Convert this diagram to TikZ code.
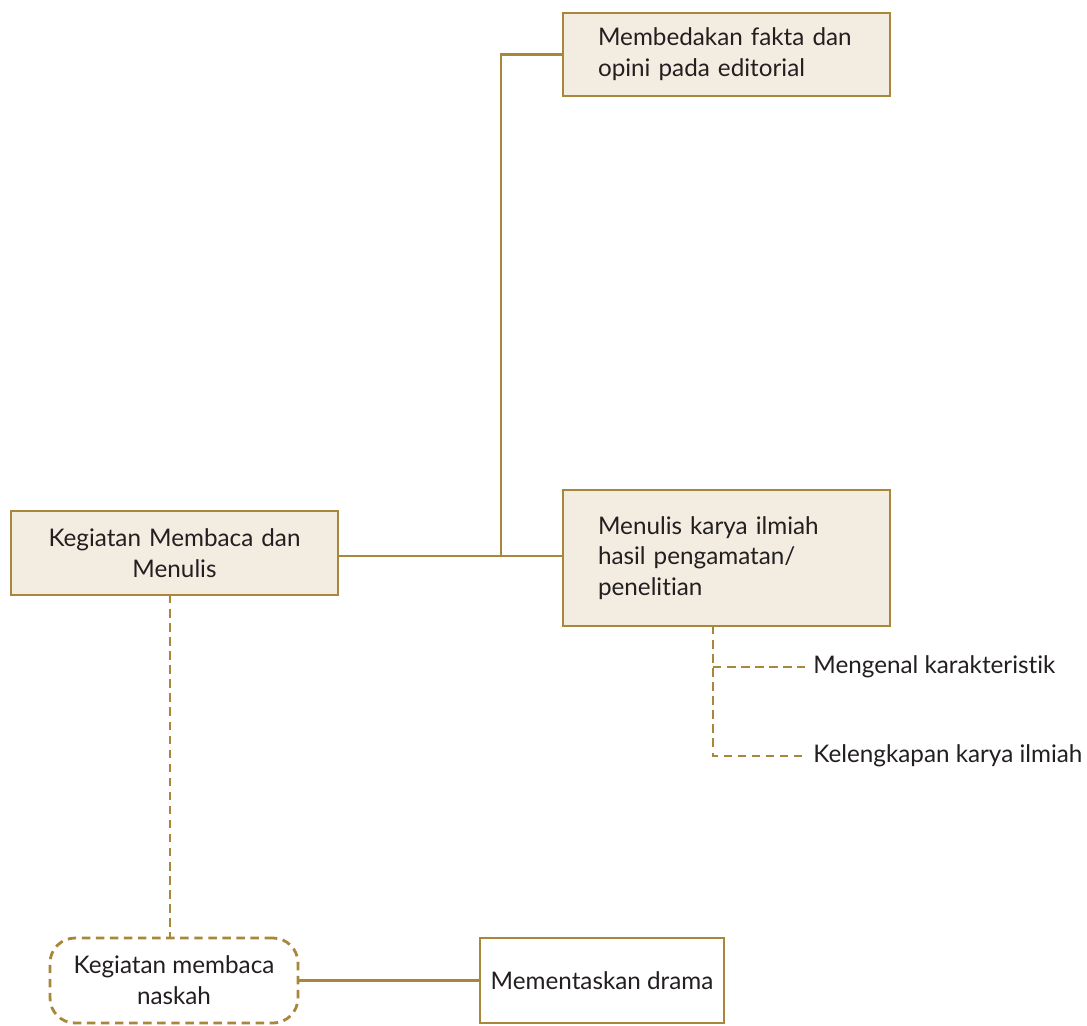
\documentclass[tikz,border=0pt]{standalone}
\usepackage{fontspec}
\setmainfont{Lato}[Ligatures={NoCommon,NoRare}]
\usepackage{tikz}

\definecolor{gold}{HTML}{A8873A}
\definecolor{paper}{HTML}{F2ECE1}
\definecolor{ink}{HTML}{231F20}

\begin{document}
\begin{tikzpicture}[x=0.02cm, y=-0.02cm, line width=1.6pt, font=\fontsize{13.8}{17.5}\selectfont, text=ink,
  topic/.style={draw=gold, fill=paper, minimum width=6.54cm, inner xsep=0.7cm, inner ysep=0pt},
  plain/.style={draw=gold, fill=white, minimum height=1.7cm},
  sub/.style={anchor=west, inner sep=0pt},
  dashline/.style={draw=gold, dash pattern=on 4.8pt off 3.2pt}]
  \useasboundingbox (0,0) rectangle (1087,1025);

  \node[topic, minimum height=1.68cm, align=center, text width=5.14cm] (main) at (174.5,553) {Kegiatan Membaca dan\\Menulis};
  \node[topic, minimum height=1.66cm, align=left, text width=5.14cm] (fakta) at (726.5,54.5) {\mbox{Membedakan fakta dan}\\opini pada editorial};
  \node[topic, minimum height=2.72cm, align=left, text width=5.14cm] (ilmiah) at (726.5,558) {Menulis karya ilmiah\\hasil pengamatan/\\penelitian\\[4pt]};
  \node[plain, dashline, rounded corners=0.5cm, minimum width=4.96cm, align=center] (naskah) at (174,980.5) {Kegiatan membaca\\naskah};
  \node[plain, minimum width=4.88cm] (drama) at (602,980.5) {Mementaskan drama};

  \node[sub] (ciri) at (812,667) {Mengenal karakteristik};
  \node[sub] (lengkap) at (812,756) {Kelengkapan karya ilmiah};

  \coordinate (j) at (501,556);
  \coordinate (s) at (713,626);
  \coordinate (t) at (170,595);

  \draw[gold] (main.east |- j) -- (j) -- (j |- fakta.west) -- (fakta.west);
  \draw[gold] (j) -- (ilmiah.west |- j);
  \draw[dashline] (s) |- ([xshift=-0.14cm]lengkap.west);
  \draw[dashline] (s |- ciri) -- ([xshift=-0.14cm]ciri.west);
  \draw[dashline] (t) -- (t |- naskah.north);
  \draw[gold] (naskah.east) -- (drama.west);
\end{tikzpicture}
\end{document}
